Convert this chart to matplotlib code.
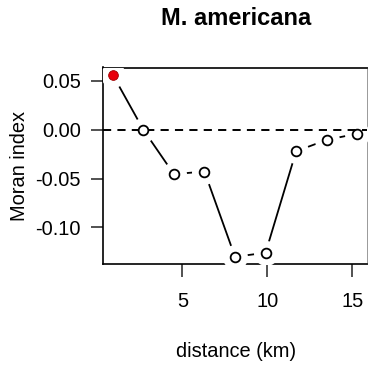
import matplotlib
matplotlib.use('Agg')
import matplotlib.pyplot as plt
import numpy as np

matplotlib.rcParams['font.family'] = ['Liberation Sans', 'DejaVu Sans']

# correlogram values
distance = [0.9, 2.7, 4.5, 6.3, 8.1, 9.9, 11.7, 13.5, 15.3]
moran = [0.0562, 0.0000, -0.0455, -0.0428, -0.1300, -0.1260, -0.0221, -0.0104, -0.0041]
significant = [True, False, False, False, False, False, False, False, False]

xticks = [5, 10, 15]
yticks = [0.05, 0.00, -0.05, -0.10]
ytick_labels = ['0.05', '0.00', '-0.05', '-0.10']

W, H = 368, 369
fig = plt.figure(figsize=(W / 100, H / 100), dpi=100)
ax = fig.add_axes([103 / W, (H - 264) / H, (367 - 103) / W, (264 - 67.5) / H])

x = np.array(distance)
y = np.array(moran)
sig = np.array(significant)

# R style type="b": line with gaps around the points
ax.plot(x, y, color='black', lw=1.3, zorder=2)
ax.plot(x, y, 'o', ms=18, mfc='white', mec='none', zorder=3)
ax.axhline(0, color='black', lw=1.4, ls=(0, (4.2, 3.2)), zorder=3.5)
ax.plot(x[~sig], y[~sig], 'o', ms=7, mfc='white', mec='black', mew=1.3, zorder=4)
ax.plot(x[sig], y[sig], 'o', ms=7, mfc='#e8000b', mec='#a00000', mew=0.6, zorder=4)

xr = x.max() - x.min()
yr = y.max() - y.min()
ax.set_xlim(x.min() - 0.04 * xr, x.max() + 0.04 * xr)
ax.set_ylim(y.min() - 0.04 * yr, y.max() + 0.04 * yr)

ax.set_xticks(xticks)
ax.set_yticks(yticks)
ax.set_yticklabels(ytick_labels)
ax.tick_params(axis='both', direction='out', length=9, width=1.1, labelsize=14.4, color='#222222')
ax.tick_params(axis='x', pad=11)
ax.tick_params(axis='y', pad=7)
for s in ax.spines.values():
    s.set_linewidth(1.2)
ax.spines['right'].set_color('#999999')
ax.spines['right'].set_linewidth(0.7)

fig.text(236 / W, 1 - 18.5 / H, 'M. americana', ha='center', va='center', fontsize=17, fontweight='bold')
fig.text(236 / W, 1 - 351.7 / H, 'distance (km)', ha='center', va='center', fontsize=14.4)
fig.text(20 / W, 1 - 166 / H, 'Moran index', ha='center', va='center', fontsize=14.4, rotation=90)

fig.savefig('out.png', dpi=100)
